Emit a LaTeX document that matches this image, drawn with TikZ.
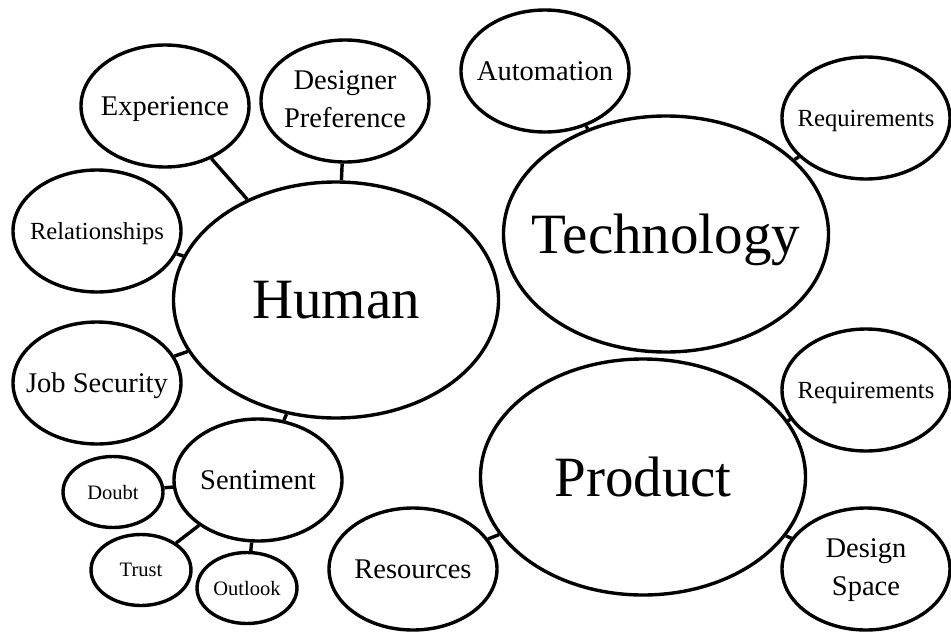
\documentclass[tikz,border=0pt]{standalone}
\usepackage{tikz}
\usepackage{fontspec}
\setmainfont{Liberation Serif}
\usetikzlibrary{shapes.geometric}
\newcommand{\lbl}[1]{\makebox[0pt]{#1}}
\newcommand{\twolines}[2]{\makebox[0pt]{\begin{tabular}{@{}c@{}}#1\\#2\end{tabular}}}

\begin{document}
\begin{tikzpicture}[x=1pt,y=-1pt,line width=3.4pt]
\tikzstyle{bubble}=[draw, ellipse, inner sep=0pt, text depth=0pt, minimum width=168pt, minimum height=122pt, font=\fontsize{28.5}{38}\selectfont]
\tikzstyle{bubblesm}=[bubble, font=\fontsize{24.6}{30}\selectfont]
\tikzstyle{big}=[bubble, minimum width=325pt, minimum height=236pt, font=\fontsize{57}{64}\selectfont]
\tikzstyle{small}=[bubble, minimum width=100pt, minimum height=71pt, font=\fontsize{20.5}{24}\selectfont]
\useasboundingbox (0,0) rectangle (951,632);
\node[big] (human) at (336,300) {\lbl{Human}};
\node[big] (technology) at (666,234) {\lbl{Technology}};
\node[big] (product) at (643,477) {\lbl{Product}};
\node[bubble] (experience) at (165,106) {\lbl{Experience}};
\node[bubble, text depth=] (designer) at (345,101) {\twolines{Designer}{Preference}};
\node[bubblesm] (relations) at (97,231) {\lbl{Relationships}};
\node[bubble] (jobsecurity) at (97,383) {\lbl{Job Security}};
\node[bubble] (sentiment) at (258,480) {\lbl{Sentiment}};
\node[small] (doubt) at (113,492) {\lbl{Doubt}};
\node[small] (trust) at (141,570) {\lbl{Trust}};
\node[small] (outlook) at (247,588) {\lbl{Outlook}};
\node[bubble] (automation) at (545,71) {\lbl{Automation}};
\node[bubblesm] (techreq) at (866,118) {\lbl{Requirements}};
\node[bubblesm] (prodreq) at (866,390) {\lbl{Requirements}};
\node[bubble, text depth=] (designspace) at (866,569) {\twolines{Design}{Space}};
\node[bubble] (resources) at (413,569) {\lbl{Resources}};
\draw (experience) -- (human);
\draw (designer) -- (human);
\draw (relations) -- (human);
\draw (jobsecurity) -- (human);
\draw (sentiment) -- (human);
\draw (doubt) -- (sentiment);
\draw (trust) -- (sentiment);
\draw (outlook) -- (sentiment);
\draw (automation) -- (technology);
\draw (techreq) -- (technology);
\draw (prodreq) -- (product);
\draw (designspace) -- (product);
\draw (resources) -- (product);
\end{tikzpicture}
\end{document}
